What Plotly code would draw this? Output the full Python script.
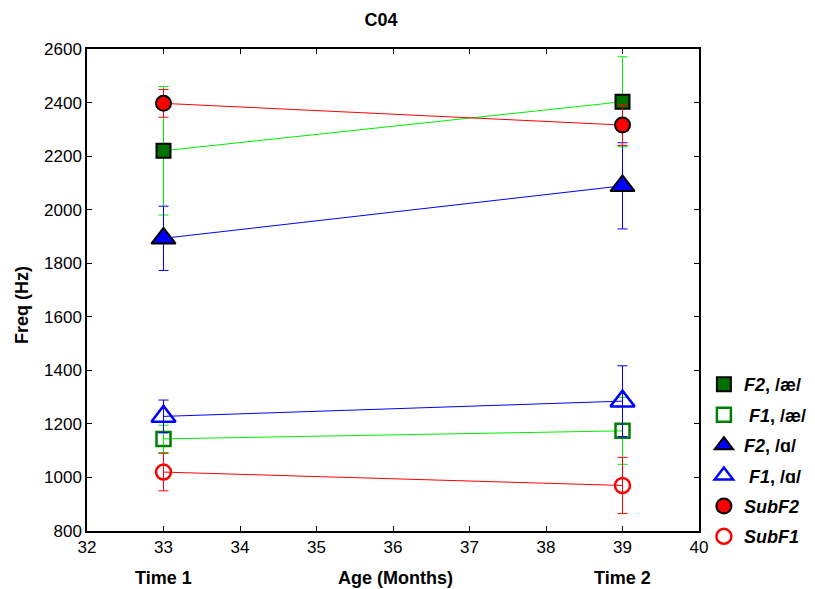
import plotly.graph_objects as go

time = [33, 39]
f2_ae = [2220, 2403]
f2_ae_err = [240, 168]
f1_ae = [1144, 1174]
f1_ae_err = [51, 125]
f2_a = [1893, 2089]
f2_a_err = [120, 161]
f1_a = [1228, 1285]
f1_a_err = [61, 132]
subf2 = [2397, 2316]
subf2_err = [52, 76]
subf1 = [1020, 970]
subf1_err = [70, 105]

names = ["<b><i>F2</i>, /æ/</b>", "<b> <i>F1</i>, /æ/</b>", "<b><i>F2</i>, /ɑ/</b>",
         "<b> <i>F1</i>, /ɑ/</b>", "<b><i>SubF2</i></b>", "<b><i>SubF1</i></b>"]

FONT = "Liberation Sans, Arial, Helvetica, sans-serif"

series = [
    (f2_ae, f2_ae_err, "#00ee00", dict(symbol="square", size=14, color="#007000", line=dict(color="black", width=2))),
    (f1_ae, f1_ae_err, "#00ee00", dict(symbol="square-open", size=14, color="#008000", line=dict(width=2.5))),
    (f2_a, f2_a_err, "#0000ff", dict(symbol="triangle-up", size=21, color="#0000ff", line=dict(color="black", width=2))),
    (f1_a, f1_a_err, "#0000ff", dict(symbol="triangle-up-open", size=21, color="#0000ff", line=dict(width=2.5))),
    (subf2, subf2_err, "#ff0000", dict(symbol="circle", size=15, color="#ff0000", line=dict(color="black", width=2))),
    (subf1, subf1_err, "#ff0000", dict(symbol="circle-open", size=15, color="#ff0000", line=dict(width=2.5))),
]

# page body has an 8px margin; figure is made a bit wider than the window so the
# legend never forces the plot area to shrink (the extra area is off-screen and empty)
W, H = 830, 581
L, T, PW, PH = 79, 41, 612, 482

fig = go.Figure()
for i, (vals, err, lc, mk) in enumerate(series):
    fig.add_trace(go.Scatter(
        x=time, y=vals, mode="lines+markers",
        line=dict(color=lc, width=1),
        marker=mk,
        error_y=dict(type="data", array=err, color=lc, thickness=1, width=5),
        showlegend=False,
    ))
# legend entries (markers only)
for i, (vals, err, lc, mk) in enumerate(series):
    fig.add_trace(go.Scatter(
        x=[None], y=[None], mode="markers", name=names[i], marker=mk,
        legendgroup=f"g{i}", showlegend=True,
    ))

fig.update_layout(
    width=W, height=H,
    margin=dict(l=L, r=W - L - PW, t=T, b=H - T - PH),
    plot_bgcolor="white", paper_bgcolor="white",
    font=dict(family=FONT, size=17, color="black"),
    title=dict(text="<b>C04</b>", x=373/W, xanchor="center", y=1-12/H, yanchor="middle",
               font=dict(size=18, family=FONT)),
    xaxis=dict(range=[32, 40], dtick=1, ticks="inside", ticklen=5, showline=True, mirror="ticks",
               linecolor="black", linewidth=1.5, tickcolor="black", showgrid=False, zeroline=False,
               tickfont=dict(size=17)),
    yaxis=dict(range=[800, 2600], dtick=200, ticks="inside", ticklen=5, showline=True, mirror="ticks",
               linecolor="black", linewidth=1.5, tickcolor="black", showgrid=False, zeroline=False,
               tickfont=dict(size=17)),
    legend=dict(x=1.008, xanchor="left", y=0.342, yanchor="top", traceorder="grouped",
                tracegroupgap=4, font=dict(size=18, family=FONT), bgcolor="rgba(0,0,0,0)"),
    showlegend=True,
)

fig.add_annotation(x=33, y=-47/PH, xref="x", yref="paper", text="<b>Time 1</b>", showarrow=False,
                   font=dict(size=18), yanchor="middle")
fig.add_annotation(x=39, y=-47/PH, xref="x", yref="paper", text="<b>Time 2</b>", showarrow=False,
                   font=dict(size=18), yanchor="middle")
fig.add_annotation(x=(395-87)/PW, y=-47/PH, xref="paper", yref="paper", text="<b>Age (Months)</b>",
                   showarrow=False, font=dict(size=18), yanchor="middle")
fig.add_annotation(x=(22-87)/PW, y=(531-305)/PH, xref="paper", yref="paper", text="<b>Freq (Hz)</b>",
                   showarrow=False, textangle=-90, font=dict(size=18), xanchor="center", yanchor="middle")

fig.write_html("out.html")
